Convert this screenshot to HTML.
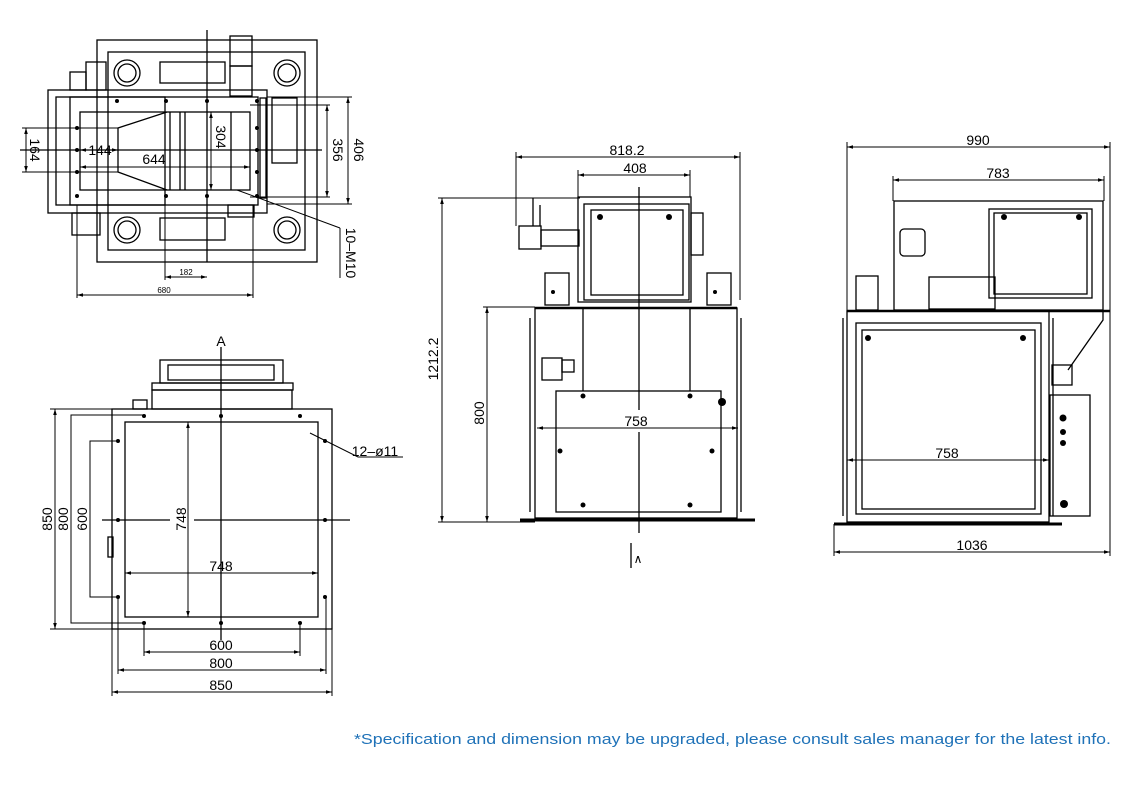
<!DOCTYPE html>
<html><head><meta charset="utf-8"><style>
html,body{margin:0;padding:0;background:#fff;}
svg{display:block;}
text{font-family:"Liberation Sans",sans-serif;fill:#000;}
</style></head><body>
<svg width="1129" height="797" viewBox="0 0 1129 797" xmlns="http://www.w3.org/2000/svg">
<defs>
<marker id="a" viewBox="0 0 10 10" refX="10" refY="5" markerWidth="6" markerHeight="6" orient="auto-start-reverse"><path d="M0,2 L10,5 L0,8 z" fill="#000"/></marker>
</defs>
<g fill="none" stroke="#000" stroke-width="1.3">
<!-- ===== TOP LEFT VIEW ===== -->
<rect x="97" y="40" width="220" height="222"/>
<rect x="108" y="52" width="197" height="198"/>
<rect x="48" y="90" width="219" height="123"/>
<rect x="56" y="97" width="202" height="108"/>
<rect x="70" y="97" width="95" height="108"/>
<rect x="80" y="112" width="170" height="78"/>
<polyline points="167,112 118,128 118,172 167,190"/>
<line x1="170" y1="112" x2="170" y2="190"/><line x1="180" y1="112" x2="180" y2="190"/><line x1="185" y1="112" x2="185" y2="190"/>
<line x1="231" y1="112" x2="231" y2="190"/>
<rect x="260" y="98" width="6" height="100"/>
<circle cx="127" cy="73" r="13"/><circle cx="127" cy="73" r="9"/>
<circle cx="287" cy="73" r="13"/><circle cx="287" cy="73" r="9"/>
<circle cx="127" cy="230" r="13"/><circle cx="127" cy="230" r="9"/>
<circle cx="287" cy="230" r="13"/><circle cx="287" cy="230" r="9"/>
<rect x="160" y="62" width="65" height="21"/>
<rect x="160" y="218" width="65" height="22"/>
<rect x="272" y="98" width="25" height="65"/>
<rect x="230" y="36" width="22" height="30"/>
<rect x="230" y="66" width="22" height="30"/>
<rect x="86" y="62" width="20" height="28"/>
<rect x="70" y="72" width="16" height="18"/>
<rect x="228" y="205" width="26" height="12"/>
<rect x="72" y="213" width="28" height="22"/>
<line x1="207" y1="30" x2="207" y2="262"/>
<line x1="20" y1="150" x2="322" y2="150"/>
<!-- dims -->
<line x1="22" y1="128" x2="118" y2="128" stroke-width="1"/>
<line x1="22" y1="172" x2="118" y2="172" stroke-width="1"/>
<line x1="26" y1="128" x2="26" y2="172" marker-start="url(#a)" marker-end="url(#a)" stroke-width="1"/>
<line x1="80" y1="150" x2="118" y2="150" marker-start="url(#a)" marker-end="url(#a)" stroke-width="1"/>
<line x1="80" y1="167" x2="250" y2="167" marker-start="url(#a)" marker-end="url(#a)" stroke-width="1"/>
<line x1="211" y1="112" x2="211" y2="190" marker-start="url(#a)" marker-end="url(#a)" stroke-width="1"/>
<line x1="250" y1="105" x2="330" y2="105" stroke-width="1"/><line x1="250" y1="197" x2="330" y2="197" stroke-width="1"/>
<line x1="327" y1="105" x2="327" y2="197" marker-start="url(#a)" marker-end="url(#a)" stroke-width="1"/>
<line x1="267" y1="97" x2="352" y2="97" stroke-width="1"/><line x1="267" y1="204" x2="352" y2="204" stroke-width="1"/>
<line x1="348" y1="97" x2="348" y2="204" marker-start="url(#a)" marker-end="url(#a)" stroke-width="1"/>
<line x1="165" y1="190" x2="165" y2="280" stroke-width="1"/>
<line x1="165" y1="277" x2="207" y2="277" marker-start="url(#a)" marker-end="url(#a)" stroke-width="1"/>
<line x1="77" y1="205" x2="77" y2="298" stroke-width="1"/><line x1="253" y1="205" x2="253" y2="298" stroke-width="1"/>
<line x1="77" y1="295" x2="253" y2="295" marker-start="url(#a)" marker-end="url(#a)" stroke-width="1"/>
<polyline points="237,190 340,228" stroke-width="1"/>
<line x1="340" y1="228" x2="340" y2="278" stroke-width="1"/>

<!-- ===== BOTTOM LEFT VIEW ===== -->
<rect x="112" y="409" width="220" height="220"/>
<rect x="125" y="422" width="193" height="195"/>
<rect x="160" y="360" width="123" height="23"/>
<rect x="168" y="365" width="106" height="15"/>
<rect x="152" y="383" width="141" height="7"/>
<rect x="152" y="390" width="140" height="19"/>
<rect x="133" y="400" width="14" height="9"/>
<rect x="108" y="537" width="5" height="20"/>
<line x1="221" y1="347" x2="221" y2="640"/>
<line x1="102" y1="520" x2="170" y2="520"/><line x1="194" y1="520" x2="350" y2="520"/>
<line x1="55" y1="409" x2="55" y2="629" marker-start="url(#a)" marker-end="url(#a)" stroke-width="1"/>
<line x1="50" y1="409" x2="112" y2="409" stroke-width="1"/><line x1="50" y1="629" x2="112" y2="629" stroke-width="1"/>
<polyline points="144,415 71,415 71,623 144,623" stroke-width="1"/>
<polyline points="118,441 90,441 90,597 118,597" stroke-width="1"/>
<line x1="188" y1="422" x2="188" y2="617" marker-start="url(#a)" marker-end="url(#a)" stroke-width="1"/>
<line x1="125" y1="573" x2="318" y2="573" marker-start="url(#a)" marker-end="url(#a)" stroke-width="1"/>
<line x1="144" y1="623" x2="144" y2="656" stroke-width="1"/><line x1="300" y1="623" x2="300" y2="656" stroke-width="1"/>
<line x1="144" y1="652" x2="300" y2="652" marker-start="url(#a)" marker-end="url(#a)" stroke-width="1"/>
<line x1="118" y1="597" x2="118" y2="674" stroke-width="1"/><line x1="326" y1="597" x2="326" y2="674" stroke-width="1"/>
<line x1="118" y1="670" x2="326" y2="670" marker-start="url(#a)" marker-end="url(#a)" stroke-width="1"/>
<line x1="112" y1="629" x2="112" y2="696" stroke-width="1"/><line x1="332" y1="629" x2="332" y2="696" stroke-width="1"/>
<line x1="112" y1="692" x2="332" y2="692" marker-start="url(#a)" marker-end="url(#a)" stroke-width="1"/>
<polyline points="310,433 358,457 403,457" stroke-width="1"/>

<!-- ===== MIDDLE VIEW ===== -->
<rect x="578" y="197" width="113" height="105"/>
<rect x="584" y="204" width="105" height="96"/>
<rect x="591" y="210" width="92" height="85"/>
<rect x="691" y="213" width="12" height="42"/>
<rect x="519" y="226" width="22" height="23"/>
<rect x="541" y="230" width="38" height="16"/>
<path d="M533,198 L533,226 M540,205 L540,226"/>
<rect x="545" y="273" width="24" height="32"/>
<rect x="707" y="273" width="24" height="32"/>
<rect x="535" y="308" width="202" height="210"/>
<line x1="530" y1="318" x2="530" y2="512"/><line x1="741" y1="318" x2="741" y2="512"/>
<line x1="520" y1="520" x2="755" y2="520" stroke-width="3"/>
<line x1="535" y1="308" x2="737" y2="308" stroke-width="2.5"/>
<rect x="556" y="391" width="165" height="121"/>
<line x1="583" y1="308" x2="583" y2="391"/><line x1="690" y1="308" x2="690" y2="391"/>
<rect x="542" y="358" width="20" height="22"/><rect x="562" y="360" width="12" height="12"/>
<line x1="639" y1="187" x2="639" y2="410"/><line x1="639" y1="432" x2="639" y2="533"/>
<line x1="631" y1="543" x2="631" y2="568"/>
<line x1="516" y1="152" x2="516" y2="226" stroke-width="1"/><line x1="740" y1="152" x2="740" y2="300" stroke-width="1"/>
<line x1="516" y1="157" x2="740" y2="157" marker-start="url(#a)" marker-end="url(#a)" stroke-width="1"/>
<line x1="578" y1="170" x2="578" y2="197" stroke-width="1"/><line x1="690" y1="170" x2="690" y2="197" stroke-width="1"/>
<line x1="578" y1="175" x2="690" y2="175" marker-start="url(#a)" marker-end="url(#a)" stroke-width="1"/>
<line x1="438" y1="198" x2="580" y2="198" stroke-width="1"/><line x1="438" y1="522" x2="535" y2="522" stroke-width="1"/>
<line x1="442" y1="198" x2="442" y2="522" marker-start="url(#a)" marker-end="url(#a)" stroke-width="1"/>
<line x1="483" y1="307" x2="535" y2="307" stroke-width="1"/>
<line x1="487" y1="307" x2="487" y2="522" marker-start="url(#a)" marker-end="url(#a)" stroke-width="1"/>
<line x1="537" y1="428" x2="738" y2="428" marker-start="url(#a)" marker-end="url(#a)" stroke-width="1"/>

<!-- ===== RIGHT VIEW ===== -->
<rect x="894" y="201" width="209" height="109"/>
<rect x="989" y="209" width="103" height="89"/>
<rect x="994" y="213" width="93" height="81"/>
<rect x="900" y="229" width="25" height="27" rx="4"/>
<rect x="929" y="277" width="66" height="32"/>
<rect x="856" y="276" width="22" height="34"/>
<rect x="847" y="311" width="202" height="211"/>
<rect x="856" y="323" width="185" height="191"/>
<rect x="862" y="330" width="173" height="179"/>
<line x1="843" y1="318" x2="843" y2="516"/><line x1="1053" y1="318" x2="1053" y2="516"/>
<line x1="834" y1="524" x2="1062" y2="524" stroke-width="3"/>
<line x1="847" y1="311" x2="1110" y2="311" stroke-width="2.5"/>
<polyline points="1103,311 1103,320 1068,370"/>
<rect x="1050" y="395" width="40" height="121"/>
<rect x="1052" y="365" width="20" height="20"/>
<line x1="847" y1="142" x2="847" y2="311" stroke-width="1"/><line x1="1110" y1="142" x2="1110" y2="556" stroke-width="1"/>
<line x1="847" y1="147" x2="1110" y2="147" marker-start="url(#a)" marker-end="url(#a)" stroke-width="1"/>
<line x1="893" y1="176" x2="893" y2="201" stroke-width="1"/><line x1="1104" y1="176" x2="1104" y2="201" stroke-width="1"/>
<line x1="893" y1="180" x2="1104" y2="180" marker-start="url(#a)" marker-end="url(#a)" stroke-width="1"/>
<line x1="847" y1="460" x2="1049" y2="460" marker-start="url(#a)" marker-end="url(#a)" stroke-width="1"/>
<line x1="834" y1="524" x2="834" y2="556" stroke-width="1"/>
<line x1="834" y1="552" x2="1110" y2="552" marker-start="url(#a)" marker-end="url(#a)" stroke-width="1"/>
</g>
<g fill="#000">
<circle cx="117" cy="101" r="2"/><circle cx="166" cy="101" r="2"/><circle cx="207" cy="101" r="2"/><circle cx="257" cy="101" r="2"/>
<circle cx="77" cy="128" r="2"/><circle cx="77" cy="150" r="2"/><circle cx="77" cy="172" r="2"/><circle cx="257" cy="128" r="2"/><circle cx="257" cy="150" r="2"/><circle cx="257" cy="172" r="2"/>
<circle cx="77" cy="196" r="2"/><circle cx="166" cy="196" r="2"/><circle cx="207" cy="196" r="2"/><circle cx="257" cy="196" r="2"/>
<circle cx="144" cy="416" r="2"/><circle cx="221" cy="416" r="2"/><circle cx="300" cy="416" r="2"/>
<circle cx="118" cy="441" r="2"/><circle cx="325" cy="441" r="2"/><circle cx="118" cy="520" r="2"/><circle cx="325" cy="520" r="2"/>
<circle cx="118" cy="597" r="2"/><circle cx="325" cy="597" r="2"/>
<circle cx="144" cy="623" r="2"/><circle cx="221" cy="623" r="2"/><circle cx="300" cy="623" r="2"/>
<circle cx="600" cy="217" r="3"/><circle cx="669" cy="217" r="3"/>
<circle cx="583" cy="396" r="2.5"/><circle cx="690" cy="396" r="2.5"/><circle cx="583" cy="505" r="2.5"/><circle cx="690" cy="505" r="2.5"/>
<circle cx="560" cy="451" r="2.5"/><circle cx="712" cy="451" r="2.5"/><circle cx="722" cy="402" r="4"/>
<circle cx="553" cy="292" r="2"/><circle cx="715" cy="292" r="2"/>
<circle cx="868" cy="338" r="3"/><circle cx="1023" cy="338" r="3"/>
<circle cx="1004" cy="217" r="3"/><circle cx="1079" cy="217" r="3"/>
<circle cx="1063" cy="418" r="3.5"/><circle cx="1063" cy="432" r="3"/><circle cx="1063" cy="443" r="3"/><circle cx="1064" cy="504" r="4"/>
</g>
<g font-size="14">
<text x="26" y="150" transform="rotate(90 26 150)" text-anchor="middle" dy="-4">164</text>
<text x="100" y="155" text-anchor="middle">144</text>
<text x="154" y="164" text-anchor="middle">644</text>
<text x="214" y="137" transform="rotate(90 214 137)" text-anchor="middle" dy="-2">304</text>
<text x="330" y="150" transform="rotate(90 330 150)" text-anchor="middle" dy="-3">356</text>
<text x="351" y="150" transform="rotate(90 351 150)" text-anchor="middle" dy="-3">406</text>
<text x="343" y="253" transform="rotate(90 343 253)" text-anchor="middle" dy="-3">10–M10</text>
<text x="186" y="275" text-anchor="middle" font-size="8">182</text>
<text x="164" y="293" text-anchor="middle" font-size="8">680</text>
<text x="221" y="346" text-anchor="middle">A</text>
<text x="375" y="456" text-anchor="middle">12–ø11</text>
<text x="52" y="519" transform="rotate(-90 52 519)" text-anchor="middle">850</text>
<text x="68" y="519" transform="rotate(-90 68 519)" text-anchor="middle">800</text>
<text x="87" y="519" transform="rotate(-90 87 519)" text-anchor="middle">600</text>
<text x="186" y="519" transform="rotate(-90 186 519)" text-anchor="middle">748</text>
<text x="221" y="571" text-anchor="middle">748</text>
<text x="221" y="650" text-anchor="middle">600</text>
<text x="221" y="668" text-anchor="middle">800</text>
<text x="221" y="690" text-anchor="middle">850</text>
<text x="627" y="155" text-anchor="middle">818.2</text>
<text x="635" y="173" text-anchor="middle">408</text>
<text x="438" y="359" transform="rotate(-90 438 359)" text-anchor="middle">1212.2</text>
<text x="484" y="413" transform="rotate(-90 484 413)" text-anchor="middle">800</text>
<text x="636" y="426" text-anchor="middle">758</text>
<text x="638" y="563" text-anchor="middle" font-size="12">∧</text>
<text x="978" y="145" text-anchor="middle">990</text>
<text x="998" y="178" text-anchor="middle">783</text>
<text x="947" y="458" text-anchor="middle">758</text>
<text x="972" y="550" text-anchor="middle">1036</text>
</g>
<text x="354" y="744" font-size="15" textLength="757" lengthAdjust="spacingAndGlyphs" style="fill:#1f72b8">*Specification and dimension may be upgraded, please consult sales manager for the latest info.</text>
</svg>
</body></html>
